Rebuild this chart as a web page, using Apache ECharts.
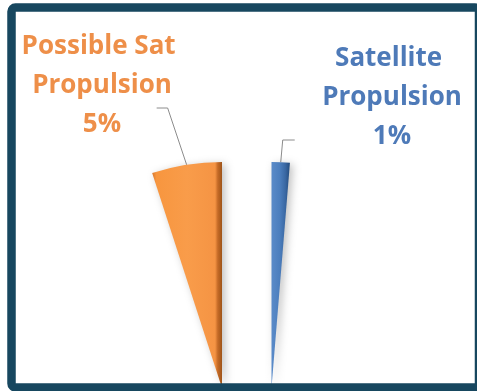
<!DOCTYPE html>
<html>
<head>
<meta charset="utf-8">
<script src="https://cdn.jsdelivr.net/npm/echarts@6/dist/echarts.min.js"></script>
<style>
  html, body { margin: 0; padding: 0; background: #ffffff; }
  #chart { width: 477px; height: 391px; }
</style>
</head>
<body>
<div id="chart"></div>
<script>
// ---- data ----
const categories = ['Possible Sat Propulsion', 'Satellite Propulsion'];
const shares = [5, 1.3];          // percent of the whole pie
const pieTotal = 100;             // whole pie (other slices are hidden)
const otherName = 'Other';

// ---- styles / layout (not data) ----
const labelColors = ['#EE8F49', '#4E7AB8'];
const sliceGradients = [
  [
    { offset: 0, color: '#D9792F' },
    { offset: 0.06, color: '#F7963F' },
    { offset: 0.5, color: '#F99C4A' },
    { offset: 0.9, color: '#F59444' },
    { offset: 0.94, color: '#C46A27' },
    { offset: 1, color: '#9E5419' }
  ],
  [
    { offset: 0, color: '#5A8BC9' },
    { offset: 0.45, color: '#4C7EBD' },
    { offset: 0.75, color: '#3A68A3' },
    { offset: 1, color: '#244B7C' }
  ]
];
const pieCenters = [[222, 388], [271.5, 388]];
const pieRadius = 226;
const labelAnchors = [[102, 86], [392, 98]];
const labelWrapWidth = [190, 175];
// label line: [dx of bend from arc point, y of horizontal part, horizontal length (signed)]
const guideCfg = [[-19, 108, -11], [2, 140, 12]];

function buildSeries(i) {
  const angle = shares[i] / pieTotal * 360;
  const startAngle = i === 0 ? 90 + angle : 90;
  const visible = {
    name: categories[i],
    value: shares[i],
    itemStyle: {
      color: { type: 'linear', x: 0, y: 0, x2: 1, y2: 0, colorStops: sliceGradients[i] },
      shadowBlur: 8,
      shadowColor: 'rgba(0,0,0,0.25)',
      shadowOffsetX: 3,
      shadowOffsetY: 2
    }
  };
  const hidden = {
    name: otherName,
    value: pieTotal - shares[i],
    itemStyle: { color: 'rgba(0,0,0,0)' },
    label: { show: false },
    labelLine: { show: false }
  };
  return {
    type: 'pie',
    center: pieCenters[i],
    radius: pieRadius,
    startAngle: startAngle,
    clockwise: true,
    avoidLabelOverlap: false,
    percentPrecision: 0,
    silent: true,
    animation: false,
    label: {
      show: true,
      position: 'outside',
      alignTo: 'none',
      formatter: '{b}\n{d}%',
      width: labelWrapWidth[i],
      overflow: 'break',
      color: labelColors[i],
      fontFamily: 'Open Sans',
      fontWeight: 'bold',
      fontSize: 26,
      lineHeight: 39,
      align: 'center'
    },
    labelLine: {
      show: true,
      length: 30,
      length2: 10,
      lineStyle: { color: '#8C8C8C', width: 1 }
    },
    labelLayout: function (params) {
      const p0 = params.labelLinePoints ? params.labelLinePoints[0] : null;
      const g = guideCfg[i];
      const out = {
        x: labelAnchors[i][0],
        y: labelAnchors[i][1],
        align: 'center',
        verticalAlign: 'middle'
      };
      if (p0) {
        const bend = [p0[0] + g[0], g[1]];
        out.labelLinePoints = [p0, bend, [bend[0] + g[2], g[1]]];
      }
      return out;
    },
    data: [visible, hidden]
  };
}

const chart = echarts.init(document.getElementById('chart'), null, { renderer: 'canvas' });
chart.setOption({
  backgroundColor: '#ffffff',
  animation: false,
  series: [buildSeries(0), buildSeries(1)],
  graphic: [{
    type: 'rect',
    z: 100,
    silent: true,
    shape: { x: 11.5, y: 7.5, width: 467.5, height: 380, r: 4 },
    style: { fill: 'none', stroke: '#17475F', lineWidth: 8.5 }
  }]
});
</script>
</body>
</html>
